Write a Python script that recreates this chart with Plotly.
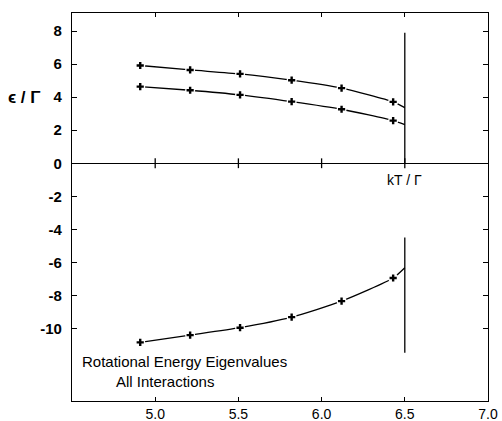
import plotly.graph_objects as go

# data
kT = [4.91, 5.21, 5.51, 5.82, 6.12, 6.43]
kT_end = 6.5
upper = [5.92, 5.65, 5.41, 5.03, 4.55, 3.72]
upper_end = 3.37
middle = [4.64, 4.42, 4.14, 3.73, 3.27, 2.58]
middle_end = 2.34
lower = [-10.85, -10.41, -9.96, -9.32, -8.35, -6.95]
lower_end = -6.33

crit_upper = [0, 7.9]
crit_lower = [-4.5, -11.48]

x_ticks = [5.0, 5.5, 6.0, 6.5, 7.0]
x_tick_text = ["5.0", "5.5", "6.0", "6.5", "7.0"]
zero_ticks = [5.0, 5.5, 6.0, 6.5]
y_ticks = [-10, -8, -6, -4, -2, 0, 2, 4, 6, 8]
y_tick_text = ["-10", "-8", "-6", "-4", "-2", "0", "2", "4", "6", "8"]

FONT = "Liberation Sans"
fig = go.Figure()

for ys, yend in [(upper, upper_end), (middle, middle_end), (lower, lower_end)]:
    fig.add_trace(go.Scatter(x=kT + [kT_end], y=ys + [yend], mode="lines",
                             line=dict(color="black", width=1.3, shape="spline", smoothing=0.6),
                             hoverinfo="skip", showlegend=False))
for ys in [upper, middle, lower]:
    fig.add_trace(go.Scatter(x=kT, y=ys, mode="markers",
                             marker=dict(symbol="circle", size=10, color="white"),
                             hoverinfo="skip", showlegend=False))
    fig.add_trace(go.Scatter(x=kT, y=ys, mode="markers",
                             marker=dict(symbol="cross", size=6, color="black"),
                             hoverinfo="skip", showlegend=False))

for yy in [crit_upper, crit_lower]:
    fig.add_trace(go.Scatter(x=[kT_end, kT_end], y=yy, mode="lines",
                             line=dict(color="black", width=1.3),
                             hoverinfo="skip", showlegend=False))

# tick marks on the zero line
fig.add_trace(go.Scatter(x=zero_ticks, y=[0] * len(zero_ticks), mode="markers",
                         marker=dict(symbol="line-ns-open", size=7, color="black",
                                     line=dict(width=1.3, color="black")),
                         hoverinfo="skip", showlegend=False))

fig.update_layout(
    width=502, height=421,
    margin=dict(l=72, r=14, t=13, b=20, autoexpand=False),
    paper_bgcolor="white", plot_bgcolor="white",
    font=dict(family=FONT, color="black", size=14),
    xaxis=dict(range=[4.5, 7.0], tickvals=x_ticks, ticktext=x_tick_text,
               showgrid=False, zeroline=False, showline=True, linecolor="black",
               linewidth=1.3, mirror="ticks", ticks="inside", ticklen=4,
               tickcolor="black", tickfont=dict(size=14, family=FONT),
               automargin=False),
    yaxis=dict(range=[-14.4, 9.1], tickvals=y_ticks, ticktext=y_tick_text,
               showgrid=False, zeroline=True, zerolinecolor="black", zerolinewidth=1.3,
               showline=True, linecolor="black", linewidth=1.3, mirror="ticks",
               ticks="inside", ticklen=5, tickcolor="black", ticklabelstandoff=6,
               tickfont=dict(size=15, family=FONT, weight="bold"), automargin=False),
    annotations=[
        dict(x=0.0, xref="paper", y=4.0, yref="y", text="ϵ / Γ", showarrow=False,
             xanchor="right", xshift=-29, font=dict(size=17, family=FONT, weight="bold")),
        dict(x=6.5, y=0, text="kT / Γ", showarrow=False, yanchor="top", yshift=-7,
             font=dict(size=14, family=FONT)),
        dict(x=4.55, y=-12.0, text="Rotational Energy Eigenvalues", showarrow=False,
             xanchor="left", font=dict(size=15, family=FONT)),
        dict(x=4.75, y=-13.2, text="All Interactions", showarrow=False,
             xanchor="left", font=dict(size=15, family=FONT)),
    ],
)

fig.write_html("out.html")
